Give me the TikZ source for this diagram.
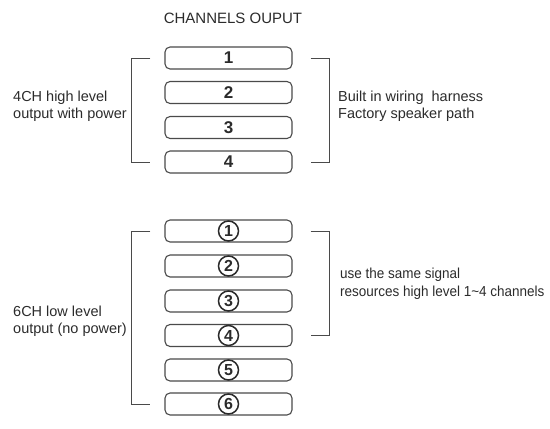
\documentclass[tikz,border=0pt]{standalone}
\usepackage{fontspec}
\setmainfont{Liberation Sans}
\usetikzlibrary{calc}
\definecolor{ink}{HTML}{2B2B2B}
\definecolor{linecol}{HTML}{4A4A4A}
\begin{document}
\begin{tikzpicture}[x=1pt,y=-1pt,
  chbox/.style={draw=linecol,line width=1.1pt,rounded corners=5pt,minimum width=127pt,minimum height=22pt,inner sep=0pt,text=ink,font=\fontsize{17}{17}\selectfont\bfseries},
  circnum/.style={draw=ink,line width=1.5pt,circle,minimum size=20pt,inner sep=0pt,font=\fontsize{16}{16}\selectfont\bfseries,text=ink},
  brack/.style={draw=linecol,line width=1pt},
  lbl/.style={text=ink,font=\fontsize{14.5}{16.5}\selectfont,align=left,inner sep=0pt,anchor=west}]
\useasboundingbox (0,0) rectangle (550,429);
\node[text=ink,font=\fontsize{15}{15}\selectfont] (title) at (233,18) {CHANNELS OUPUT};
% top boxes
\foreach \i/\y in {1/58,2/92.5,3/127.5,4/162}
  \node[chbox] (t\i) at (228.5,\y) {\i};
% bottom boxes
\foreach \i/\y in {1/231,2/266,3/301,4/335.5,5/370,6/404}{
  \node[chbox] (b\i) at (228.5,\y) {};
  \node[circnum] (c\i) at (b\i.center) {\i};
}
% brackets
\draw[brack] ($(t1.west)+(-14,0)$) -- ($(t1.west)+(-33,0)$) -- ($(t4.west)+(-33,0)$) -- ($(t4.west)+(-14,0)$);
\draw[brack] ($(t1.east)+(18,0)$) -- ($(t1.east)+(37,0)$) -- ($(t4.east)+(37,0)$) -- ($(t4.east)+(18,0)$);
\draw[brack] ($(b1.west)+(-14,0)$) -- ($(b1.west)+(-33,0)$) -- ($(b6.west)+(-33,0)$) -- ($(b6.west)+(-14,0)$);
\draw[brack] ($(b1.east)+(18,0)$) -- ($(b1.east)+(37,0)$) -- ($(b4.east)+(37,0)$) -- ($(b4.east)+(18,0)$);
% labels
\node[lbl] (l1) at (13,106) {4CH high level\\output with power};
\node[lbl] (r1) at (338,106) {Built in wiring\ \ harness\\Factory speaker path};
\node[lbl] (l2) at (13,321) {6CH low level\\output (no power)};
\node[lbl,font=\fontsize{14.5}{18}\selectfont\addfontfeatures{FakeStretch=0.93}] (r2) at (340,284) {use the same signal\\resources high level 1\textasciitilde4 channels};
\end{tikzpicture}
\end{document}
